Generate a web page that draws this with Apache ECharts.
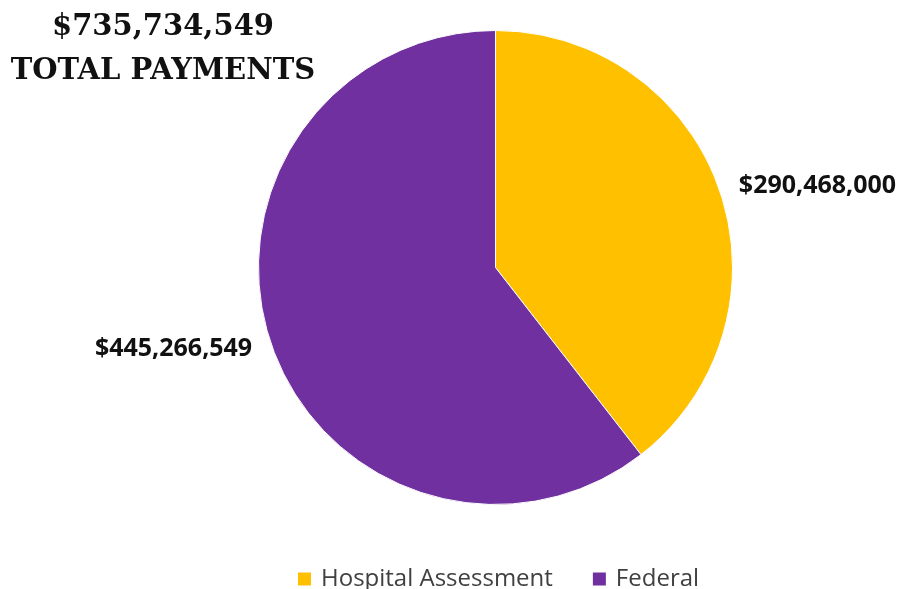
<!DOCTYPE html>
<html>
<head>
<meta charset="utf-8">
<script src="https://cdn.jsdelivr.net/npm/echarts@6/dist/echarts.min.js"></script>
<style>
html,body{margin:0;padding:0;background:#fff;}
#chart{width:901px;height:589px;}
</style>
</head>
<body>
<div id="chart"></div>
<script>
const categories = ["Hospital Assessment", "Federal"];
const values = [290468000, 445266549];
const colors = ["#FFC000", "#7030A0"];
const titleLines = ["$735,734,549", "TOTAL PAYMENTS"];

function money(v) { return "$" + v.toLocaleString("en-US"); }

const chart = echarts.init(document.getElementById("chart"));
chart.setOption({
  backgroundColor: "#ffffff",
  animation: false,
  title: {
    text: titleLines.join("\n"),
    left: 158,
    top: 0,
    textAlign: "center",
    textStyle: {
      fontFamily: "DejaVu Serif",
      fontWeight: "bold",
      fontSize: 29,
      lineHeight: 44,
      color: "#111111"
    }
  },
  legend: {
    data: categories,
    left: 291,
    top: 562,
    icon: "rect",
    itemWidth: 15,
    itemHeight: 15,
    itemGap: 38,
    textStyle: {
      fontFamily: "Open Sans",
      fontSize: 24,
      color: "#404040",
      padding: [0, 0, 0, 4]
    }
  },
  series: [{
    type: "pie",
    center: [495.5, 267.5],
    radius: 237,
    startAngle: 90,
    clockwise: true,
    avoidLabelOverlap: false,
    itemStyle: { borderColor: "#ffffff", borderWidth: 1 },
    label: {
      show: true,
      position: "outside",
      formatter: p => money(p.value),
      fontFamily: "Open Sans",
      fontWeight: "bold",
      fontSize: 25,
      color: "#111111"
    },
    labelLine: { show: false, length: 15, length2: 0 },
    emphasis: { disabled: true },
    data: categories.map((c, i) => ({ name: c, value: values[i], itemStyle: { color: colors[i] } }))
  }]
});
</script>
</body>
</html>
